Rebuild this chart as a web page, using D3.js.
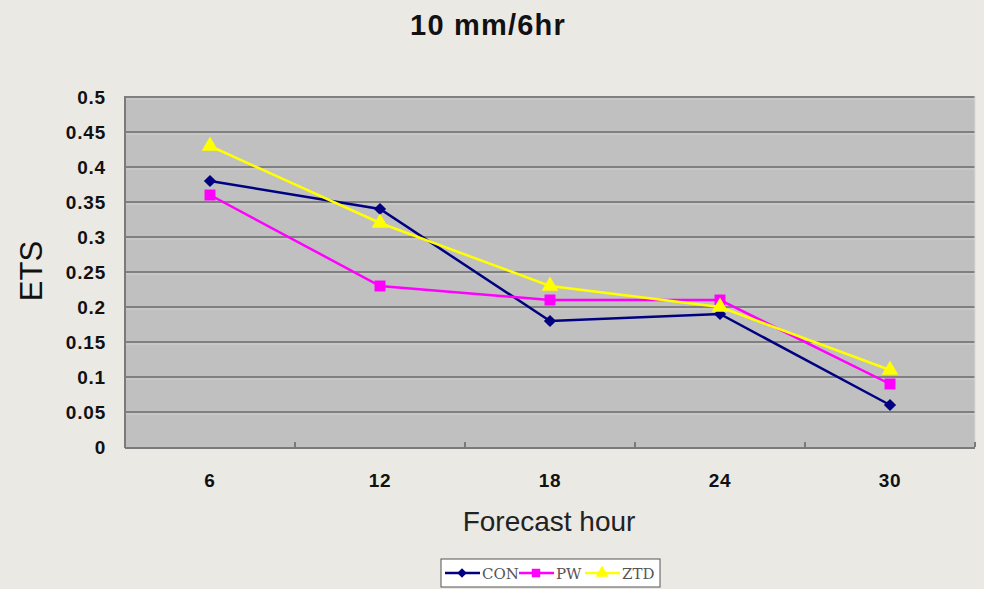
<!DOCTYPE html>
<html><head><meta charset="utf-8">
<script src="https://cdn.jsdelivr.net/npm/d3@7"></script>
<style>body{margin:0;background:#ebe9e4;}svg{display:block;}</style>
</head><body>
<script>
const categories = ["6","12","18","24","30"];
const conValues = [0.38, 0.34, 0.18, 0.19, 0.06];
const pwValues  = [0.36, 0.23, 0.21, 0.21, 0.09];
const ztdValues = [0.43, 0.32, 0.23, 0.20, 0.11];
const yTicks = [0,0.05,0.1,0.15,0.2,0.25,0.3,0.35,0.4,0.45,0.5];
const seriesNames = ["CON","PW","ZTD"];

const W=984,H=589;
const svg=d3.select("body").append("svg").attr("width",W).attr("height",H);
svg.append("rect").attr("width",W).attr("height",H).attr("fill","#ebe9e4");
const L=125,R=975,T=97,B=447;
const x=d3.scaleBand().domain(categories).range([L,R]);
const y=d3.scaleLinear().domain([0,0.5]).range([B,T]);
const FONT="Liberation Sans, Arial, sans-serif";

svg.append("rect").attr("x",L).attr("y",T-1).attr("width",R-L).attr("height",B-T+1).attr("fill","#c0c0c0");
svg.append("g").selectAll("line").data(yTicks.slice(1)).join("line")
 .attr("x1",L).attr("x2",R).attr("y1",d=>y(d)).attr("y2",d=>y(d))
 .attr("stroke","#808080").attr("stroke-width",2);
svg.append("g").selectAll("line").data(yTicks.slice(1)).join("line")
 .attr("x1",L).attr("x2",R).attr("y1",d=>y(d)+2).attr("y2",d=>y(d)+2)
 .attr("stroke","#d0d0d0").attr("stroke-width",1);
svg.append("line").attr("x1",L).attr("x2",L).attr("y1",T-1).attr("y2",B+1).attr("stroke","#7a7a7a").attr("stroke-width",2);
svg.append("line").attr("x1",L).attr("x2",R).attr("y1",B+1).attr("y2",B+1).attr("stroke","#7a7a7a").attr("stroke-width",2);
svg.append("line").attr("x1",R).attr("x2",R).attr("y1",T-1).attr("y2",B).attr("stroke","#d8d8d8").attr("stroke-width",1);
const tickPos=categories.slice(1).map(c=>x(c));
svg.append("g").selectAll("line").data(tickPos.concat([R])).join("line")
 .attr("x1",d=>d).attr("x2",d=>d).attr("y1",B-5).attr("y2",B).attr("stroke","#7a7a7a").attr("stroke-width",2);

svg.append("g").selectAll("text").data(yTicks).join("text")
 .attr("x",106).attr("y",d=>y(d)+7).attr("text-anchor","end")
 .attr("font-family",FONT).attr("font-weight","bold").attr("font-size",19).attr("letter-spacing",0.8)
 .attr("fill","#111").text(d=>d3.format("")(d));
svg.append("g").selectAll("text").data(categories).join("text")
 .attr("x",d=>x(d)+x.bandwidth()/2).attr("y",487).attr("text-anchor","middle")
 .attr("font-family",FONT).attr("font-weight","bold").attr("font-size",19).attr("letter-spacing",0.8)
 .attr("fill","#111").text(d=>d);

svg.append("text").attr("x",488).attr("y",35).attr("text-anchor","middle")
 .attr("font-family",FONT).attr("font-weight","bold").attr("font-size",29).attr("letter-spacing",1.2)
 .attr("fill","#111").text("10 mm/6hr");
svg.append("text").attr("x",549).attr("y",531).attr("text-anchor","middle")
 .attr("font-family",FONT).attr("font-size",28)
 .attr("fill","#222").text("Forecast hour");
svg.append("text").attr("transform","translate(42,271) rotate(-90)").attr("text-anchor","middle")
 .attr("font-family",FONT).attr("font-size",31)
 .attr("fill","#111").text("ETS");

const cx=c=>x(c)+x.bandwidth()/2;
const series=[
 {name:"CON",vals:conValues,color:"#000080",sym:d3.symbolSquare,size:75,rot:45},
 {name:"PW",vals:pwValues,color:"#ff00ff",sym:d3.symbolSquare,size:120,rot:0},
 {name:"ZTD",vals:ztdValues,color:"#ffff00",sym:d3.symbolTriangle,size:120,rot:0}
];
const line=d3.line().x((d,i)=>cx(categories[i])).y(d=>y(d));
series.forEach(s=>{
 svg.append("path").attr("d",line(s.vals)).attr("fill","none").attr("stroke",s.color).attr("stroke-width",2.5);
 svg.append("g").selectAll("path").data(s.vals).join("path")
  .attr("transform",(d,i)=>`translate(${cx(categories[i])},${y(d)}) rotate(${s.rot})`)
  .attr("d",d3.symbol().type(s.sym).size(s.size)).attr("fill",s.color);
});

const lg=svg.append("g");
lg.append("rect").attr("x",441).attr("y",559).attr("width",219).attr("height",28)
 .attr("fill","#ffffff").attr("stroke","#555").attr("stroke-width",1);
const lx=[445,519,585];
series.forEach((s,i)=>{
 const x0=lx[i];
 lg.append("line").attr("x1",x0).attr("x2",x0+35).attr("y1",573).attr("y2",573).attr("stroke",s.color).attr("stroke-width",2.5);
 lg.append("path").attr("transform",`translate(${x0+17},573) rotate(${s.rot})`).attr("d",d3.symbol().type(s.sym).size(s.size*0.6)).attr("fill",s.color);
 lg.append("text").attr("x",x0+37).attr("y",579).attr("font-family","DejaVu Serif, Liberation Serif, serif")
  .attr("font-size",15).attr("fill","#555").text(s.name);
});
</script>
</body></html>
